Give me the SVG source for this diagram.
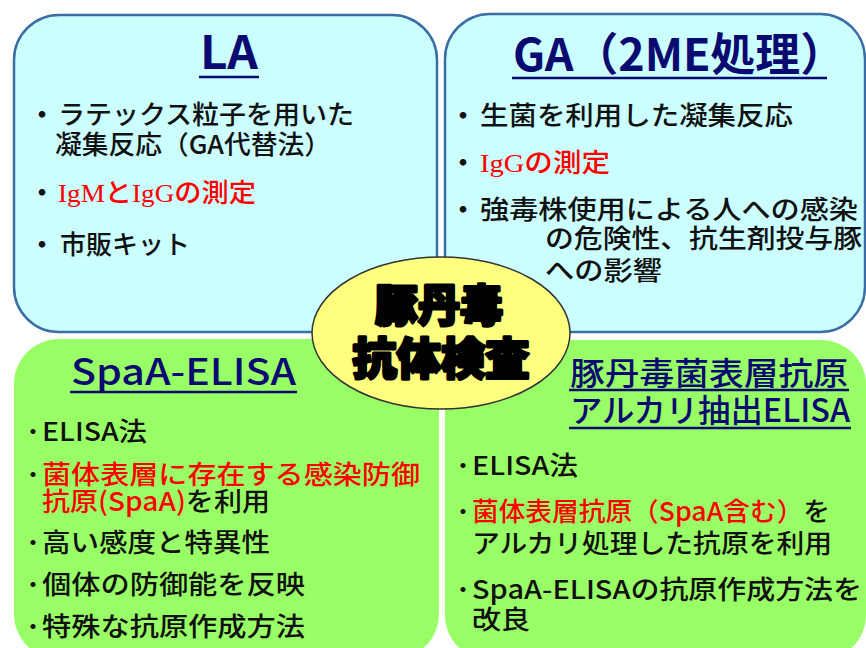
<svg xmlns="http://www.w3.org/2000/svg" width="866" height="648" viewBox="0 0 866 648">
<style>
.cy{fill:#CCFFFF;stroke:#3A6EA5;stroke-width:2.5}
.gr{fill:#99FF66;stroke:none}
.t{font-family:"Noto Sans CJK JP","Noto Sans",sans-serif;font-size:26px;font-weight:500;fill:#111}
.r{fill:#FF0000}
.se{font-family:"Liberation Serif","Noto Sans CJK JP",serif}
.ttl{font-family:"Noto Sans CJK JP","Noto Sans",sans-serif;fill:#0A0A70}
.b{font-family:"Noto Sans CJK JP",sans-serif;font-size:26px;font-weight:bold;fill:#111;text-anchor:middle}
.ul{stroke:#0A0A70;stroke-width:2.5}
.ctr{font-family:"Noto Sans CJK JP",sans-serif;font-size:44px;font-weight:900;fill:#000;stroke:#000;stroke-width:3;stroke-linejoin:round;text-anchor:middle}
</style>
<rect width="866" height="648" fill="#FFFFFF"/>

<g id="la">
<rect class="cy" x="14" y="15" width="423" height="317" rx="45" ry="45"/>
<text class="ttl" x="229" y="69" font-size="46" font-weight="bold" text-anchor="middle" textLength="58" lengthAdjust="spacingAndGlyphs">LA</text>
<line class="ul" x1="199" y1="77" x2="259" y2="77"/>
<text class="b" x="42" y="124">・</text>
<text class="t" x="58" y="124" textLength="296" lengthAdjust="spacingAndGlyphs">ラテックス粒子を用いた</text>
<text class="t" x="55" y="154" textLength="276" lengthAdjust="spacingAndGlyphs">凝集反応（GA代替法）</text>
<text class="b" x="42" y="202">・</text>
<text class="t r" x="58" y="202" textLength="198" lengthAdjust="spacingAndGlyphs"><tspan class="se">IgM</tspan>と<tspan class="se">IgG</tspan>の測定</text>
<text class="b" x="42" y="254">・</text>
<text class="t" x="60" y="254" textLength="130" lengthAdjust="spacingAndGlyphs">市販キット</text>
</g>

<g id="ga">
<rect class="cy" x="445" y="14" width="420" height="318" rx="45" ry="45"/>
<text class="ttl" x="513" y="71" font-size="45" font-weight="bold" textLength="332" lengthAdjust="spacingAndGlyphs">GA（2ME処理）</text>
<line class="ul" x1="512" y1="78" x2="827" y2="78"/>
<text class="b" x="463" y="125">・</text>
<text class="t" x="480" y="125" textLength="313" lengthAdjust="spacingAndGlyphs">生菌を利用した凝集反応</text>
<text class="b" x="463" y="172">・</text>
<text class="t r" x="480" y="172" textLength="130" lengthAdjust="spacingAndGlyphs"><tspan class="se">IgG</tspan>の測定</text>
<text class="b" x="463" y="219">・</text>
<text class="t" x="480" y="219" textLength="378" lengthAdjust="spacingAndGlyphs">強毒株使用による人への感染</text>
<text class="t" x="545" y="248" textLength="317" lengthAdjust="spacingAndGlyphs">の危険性、抗生剤投与豚</text>
<text class="t" x="545" y="280" textLength="117" lengthAdjust="spacingAndGlyphs">への影響</text>
</g>

<g id="spaa">
<rect class="gr" x="14" y="339" width="425" height="320" rx="45" ry="45"/>
<text class="ttl" x="71" y="385" font-size="36" font-weight="500" textLength="225" lengthAdjust="spacingAndGlyphs">SpaA-ELISA</text>
<line class="ul" x1="70" y1="392" x2="297" y2="392"/>
<text class="b" x="33" y="441">･</text>
<text class="t" x="42" y="441" textLength="105" lengthAdjust="spacingAndGlyphs">ELISA法</text>
<text class="b" x="33" y="484">･</text>
<text class="t r" x="42" y="484" textLength="378" lengthAdjust="spacingAndGlyphs">菌体表層に存在する感染防御</text>
<text class="t" x="42" y="511" textLength="228" lengthAdjust="spacingAndGlyphs"><tspan class="r">抗原(SpaA)</tspan>を利用</text>
<text class="b" x="33" y="552">･</text>
<text class="t" x="42" y="552" textLength="228" lengthAdjust="spacingAndGlyphs">高い感度と特異性</text>
<text class="b" x="33" y="594">･</text>
<text class="t" x="42" y="594" textLength="263" lengthAdjust="spacingAndGlyphs">個体の防御能を反映</text>
<text class="b" x="33" y="636">･</text>
<text class="t" x="42" y="636" textLength="263" lengthAdjust="spacingAndGlyphs">特殊な抗原作成方法</text>
</g>

<g id="alkali">
<rect class="gr" x="445" y="340" width="421" height="320" rx="45" ry="45"/>
<text class="ttl" x="570" y="385" font-size="32" font-weight="500" textLength="278" lengthAdjust="spacingAndGlyphs">豚丹毒菌表層抗原</text>
<line class="ul" x1="569" y1="390" x2="849" y2="390"/>
<text class="ttl" x="570" y="422" font-size="32" font-weight="500" textLength="280" lengthAdjust="spacingAndGlyphs">アルカリ抽出ELISA</text>
<line class="ul" x1="569" y1="428" x2="851" y2="428"/>
<text class="b" x="463" y="475">･</text>
<text class="t" x="472" y="475" textLength="106" lengthAdjust="spacingAndGlyphs">ELISA法</text>
<text class="b" x="463" y="521">･</text>
<text class="t" x="472" y="521" textLength="358" lengthAdjust="spacingAndGlyphs"><tspan class="r">菌体表層抗原（SpaA含む）</tspan>を</text>
<text class="t" x="472" y="553" textLength="360" lengthAdjust="spacingAndGlyphs">アルカリ処理した抗原を利用</text>
<text class="b" x="463" y="599">･</text>
<text class="t" x="472" y="599" textLength="390" lengthAdjust="spacingAndGlyphs">SpaA-ELISAの抗原作成方法を</text>
<text class="t" x="472" y="629" textLength="58" lengthAdjust="spacingAndGlyphs">改良</text>
</g>

<g id="center">
<ellipse cx="441" cy="333" rx="129" ry="76" fill="#FFFF80" stroke="#333" stroke-width="1.5"/>
<text class="ctr" x="439" y="322" textLength="128" lengthAdjust="spacingAndGlyphs">豚丹毒</text>
<text class="ctr" x="441" y="375" textLength="177" lengthAdjust="spacingAndGlyphs">抗体検査</text>
</g>
<g id="connectors"></g>
</svg>
